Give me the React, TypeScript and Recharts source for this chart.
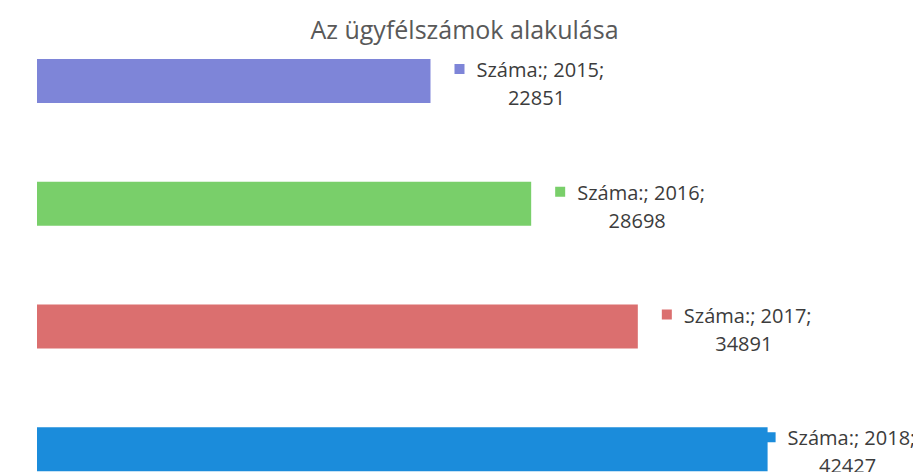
import React from "react";
import { BarChart, Bar, XAxis, YAxis, Cell, LabelList } from "recharts";

const TITLE = "Az ügyfélszámok alakulása";
const SERIES_NAME = "Száma:";
const YEARS = ["2015", "2016", "2017", "2018"];
const VALUES = [22851, 28698, 34891, 42427];
const COLORS = ["#7e85d8", "#79cf6a", "#db6f6f", "#1b8cdb"];

const data = YEARS.map((y, i) => ({ year: y, value: VALUES[i] }));

const CHART_W = 913;
const FONT = "'Open Sans', 'Noto Sans', sans-serif";

const renderLabel = (props: any) => {
  const { x, y, width, height, index, value } = props;
  const labelW = 150;
  let left = x + width + 24;
  if (left + labelW > CHART_W) left = x + width - 2;
  const cy = y + height / 2;
  return (
    <g>
      <rect x={left} y={cy - 17} width={10} height={10} fill={COLORS[index]} />
      <text
        x={left + 22}
        y={cy - 4}
        fontFamily={FONT}
        fontSize={20}
        fill="#3c3c3c"
      >
        {`${SERIES_NAME}; ${YEARS[index]};`}
      </text>
      <text
        x={left + 82}
        y={cy + 24}
        textAnchor="middle"
        fontFamily={FONT}
        fontSize={20}
        fill="#3c3c3c"
      >
        {value}
      </text>
    </g>
  );
};

export default function App() {
  return (
    <div style={{ position: "relative", width: CHART_W, height: 464, overflow: "hidden", background: "#fff" }}>
      <BarChart
        width={CHART_W}
        height={508}
        data={data}
        layout="vertical"
        margin={{ top: 12, right: 23, bottom: 5, left: 29 }}
      >
        <XAxis type="number" domain={[0, 50000]} hide />
        <YAxis type="category" dataKey="year" hide width={0} />
        <Bar dataKey="value" name={SERIES_NAME} barSize={44} isAnimationActive={false}>
          {data.map((d, i) => (
            <Cell key={d.year} fill={COLORS[i]} />
          ))}
          <LabelList dataKey="value" content={renderLabel} />
        </Bar>
      </BarChart>
      <div
        style={{
          position: "absolute",
          top: 5,
          left: 0,
          width: CHART_W,
          textAlign: "center",
          fontFamily: FONT,
          fontSize: 25,
          color: "#595959",
          lineHeight: "32px",
        }}
      >
        {TITLE}
      </div>
    </div>
  );
}
